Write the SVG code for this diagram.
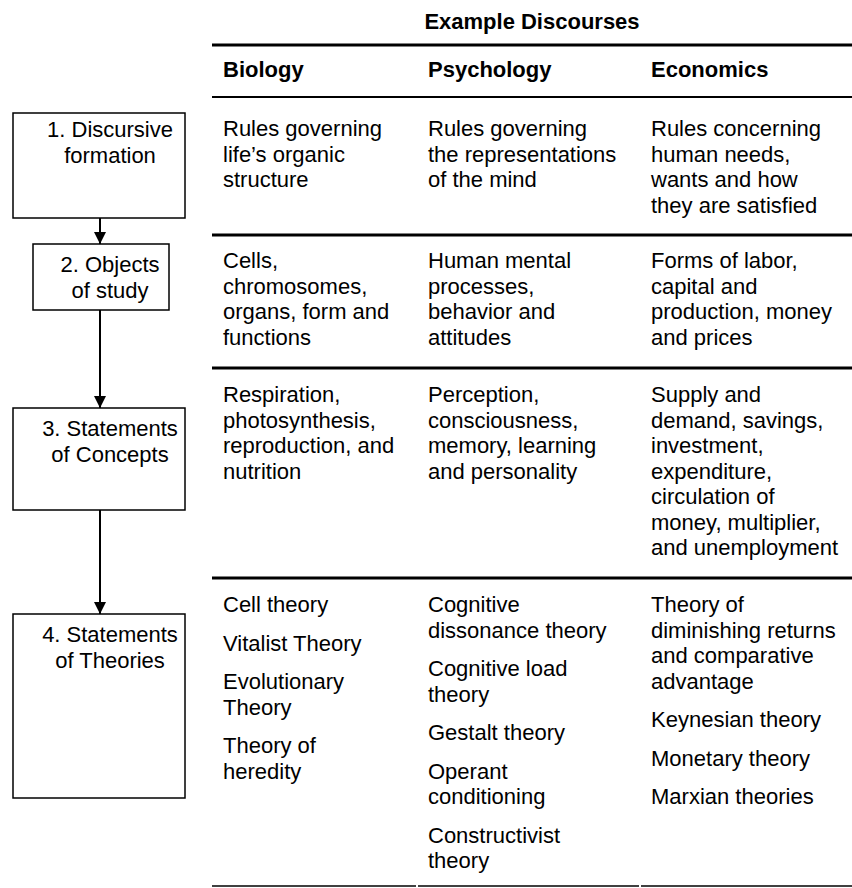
<svg xmlns="http://www.w3.org/2000/svg" width="852" height="888" viewBox="0 0 852 888">
<style>
  text { font-family: "Liberation Sans", Arial, sans-serif; font-size: 22px; fill: #000; }
  .b { font-weight: bold; }
  .box { fill: #fff; stroke: #000; stroke-width: 1.5; }
  .bt { text-anchor: middle; }
  .thick { stroke: #000; stroke-width: 3; }
  .mid { stroke: #000; stroke-width: 2; }
  .thin { stroke: #000; stroke-width: 1.5; }
  .conn { stroke: #000; stroke-width: 2; fill: none; }
</style>
<defs>
  <marker id="arr" viewBox="0 0 12 12" refX="12" refY="6" markerWidth="12" markerHeight="12" markerUnits="userSpaceOnUse" orient="auto">
    <path d="M0,0 L12,6 L0,12 Z" fill="#000"/>
  </marker>
</defs>
<rect width="852" height="888" fill="#fff"/>

<g id="title">
  <text class="b" x="532" y="29" text-anchor="middle">Example Discourses</text>
</g>

<g id="rules">
  <line class="thick" x1="212" y1="45" x2="852" y2="45"/>
  <line class="mid" x1="212" y1="97" x2="852" y2="97"/>
  <line class="thick" x1="212" y1="235" x2="852" y2="235"/>
  <line class="thick" x1="212" y1="368" x2="852" y2="368"/>
  <line class="thick" x1="212" y1="578" x2="852" y2="578"/>
  <line class="thin" x1="212" y1="886" x2="416" y2="886"/>
  <line class="thin" x1="418" y1="886" x2="639" y2="886"/>
  <line class="thin" x1="641" y1="886" x2="852" y2="886"/>
</g>

<g id="headers">
  <text class="b" x="223" y="77">Biology</text>
  <text class="b" x="428" y="77">Psychology</text>
  <text class="b" x="651" y="77">Economics</text>
</g>

<g id="n1">
  <rect class="box" x="13" y="113" width="172" height="105"/>
  <text class="bt" x="110" y="137">1. Discursive</text>
  <text class="bt" x="110" y="162.5">formation</text>
</g>
<g id="n2">
  <rect class="box" x="33" y="244" width="136" height="66"/>
  <text class="bt" x="110" y="272">2. Objects</text>
  <text class="bt" x="110" y="297.5">of study</text>
</g>
<g id="n3">
  <rect class="box" x="13" y="408" width="172" height="102"/>
  <text class="bt" x="110" y="436">3. Statements</text>
  <text class="bt" x="110" y="461.5">of Concepts</text>
</g>
<g id="n4">
  <rect class="box" x="13" y="614" width="172" height="184"/>
  <text class="bt" x="110" y="642">4. Statements</text>
  <text class="bt" x="110" y="667.5">of Theories</text>
</g>

<g id="connectors">
  <line class="conn" x1="100" y1="218" x2="100" y2="244" marker-end="url(#arr)"/>
  <line class="conn" x1="100" y1="310" x2="100" y2="408" marker-end="url(#arr)"/>
  <line class="conn" x1="100" y1="510" x2="100" y2="614" marker-end="url(#arr)"/>
</g>

<g id="row1">
  <g id="r1-bio">
    <text x="223" y="136">Rules governing</text>
    <text x="223" y="161.5">life’s organic</text>
    <text x="223" y="187">structure</text>
  </g>
  <g id="r1-psy">
    <text x="428" y="136">Rules governing</text>
    <text x="428" y="161.5">the representations</text>
    <text x="428" y="187">of the mind</text>
  </g>
  <g id="r1-eco">
    <text x="651" y="136">Rules concerning</text>
    <text x="651" y="161.5">human needs,</text>
    <text x="651" y="187">wants and how</text>
    <text x="651" y="212.5">they are satisfied</text>
  </g>
</g>

<g id="row2">
  <g id="r2-bio">
    <text x="223" y="268">Cells,</text>
    <text x="223" y="293.5">chromosomes,</text>
    <text x="223" y="319">organs, form and</text>
    <text x="223" y="344.5">functions</text>
  </g>
  <g id="r2-psy">
    <text x="428" y="268">Human mental</text>
    <text x="428" y="293.5">processes,</text>
    <text x="428" y="319">behavior and</text>
    <text x="428" y="344.5">attitudes</text>
  </g>
  <g id="r2-eco">
    <text x="651" y="268">Forms of labor,</text>
    <text x="651" y="293.5">capital and</text>
    <text x="651" y="319">production, money</text>
    <text x="651" y="344.5">and prices</text>
  </g>
</g>

<g id="row3">
  <g id="r3-bio">
    <text x="223" y="402">Respiration,</text>
    <text x="223" y="427.5">photosynthesis,</text>
    <text x="223" y="453">reproduction, and</text>
    <text x="223" y="478.5">nutrition</text>
  </g>
  <g id="r3-psy">
    <text x="428" y="402">Perception,</text>
    <text x="428" y="427.5">consciousness,</text>
    <text x="428" y="453">memory, learning</text>
    <text x="428" y="478.5">and personality</text>
  </g>
  <g id="r3-eco">
    <text x="651" y="402">Supply and</text>
    <text x="651" y="427.5">demand, savings,</text>
    <text x="651" y="453">investment,</text>
    <text x="651" y="478.5">expenditure,</text>
    <text x="651" y="504">circulation of</text>
    <text x="651" y="529.5">money, multiplier,</text>
    <text x="651" y="555">and unemployment</text>
  </g>
</g>

<g id="row4">
  <g id="r4-bio">
    <text x="223" y="612">Cell theory</text>
    <text x="223" y="650.5">Vitalist Theory</text>
    <text x="223" y="689">Evolutionary</text>
    <text x="223" y="714.5">Theory</text>
    <text x="223" y="753">Theory of</text>
    <text x="223" y="778.5">heredity</text>
  </g>
  <g id="r4-psy">
    <text x="428" y="612">Cognitive</text>
    <text x="428" y="637.5">dissonance theory</text>
    <text x="428" y="676">Cognitive load</text>
    <text x="428" y="701.5">theory</text>
    <text x="428" y="740">Gestalt theory</text>
    <text x="428" y="778.5">Operant</text>
    <text x="428" y="804">conditioning</text>
    <text x="428" y="842.5">Constructivist</text>
    <text x="428" y="868">theory</text>
  </g>
  <g id="r4-eco">
    <text x="651" y="612">Theory of</text>
    <text x="651" y="637.5">diminishing returns</text>
    <text x="651" y="663">and comparative</text>
    <text x="651" y="688.5">advantage</text>
    <text x="651" y="727">Keynesian theory</text>
    <text x="651" y="765.5">Monetary theory</text>
    <text x="651" y="804">Marxian theories</text>
  </g>
</g>
</svg>
